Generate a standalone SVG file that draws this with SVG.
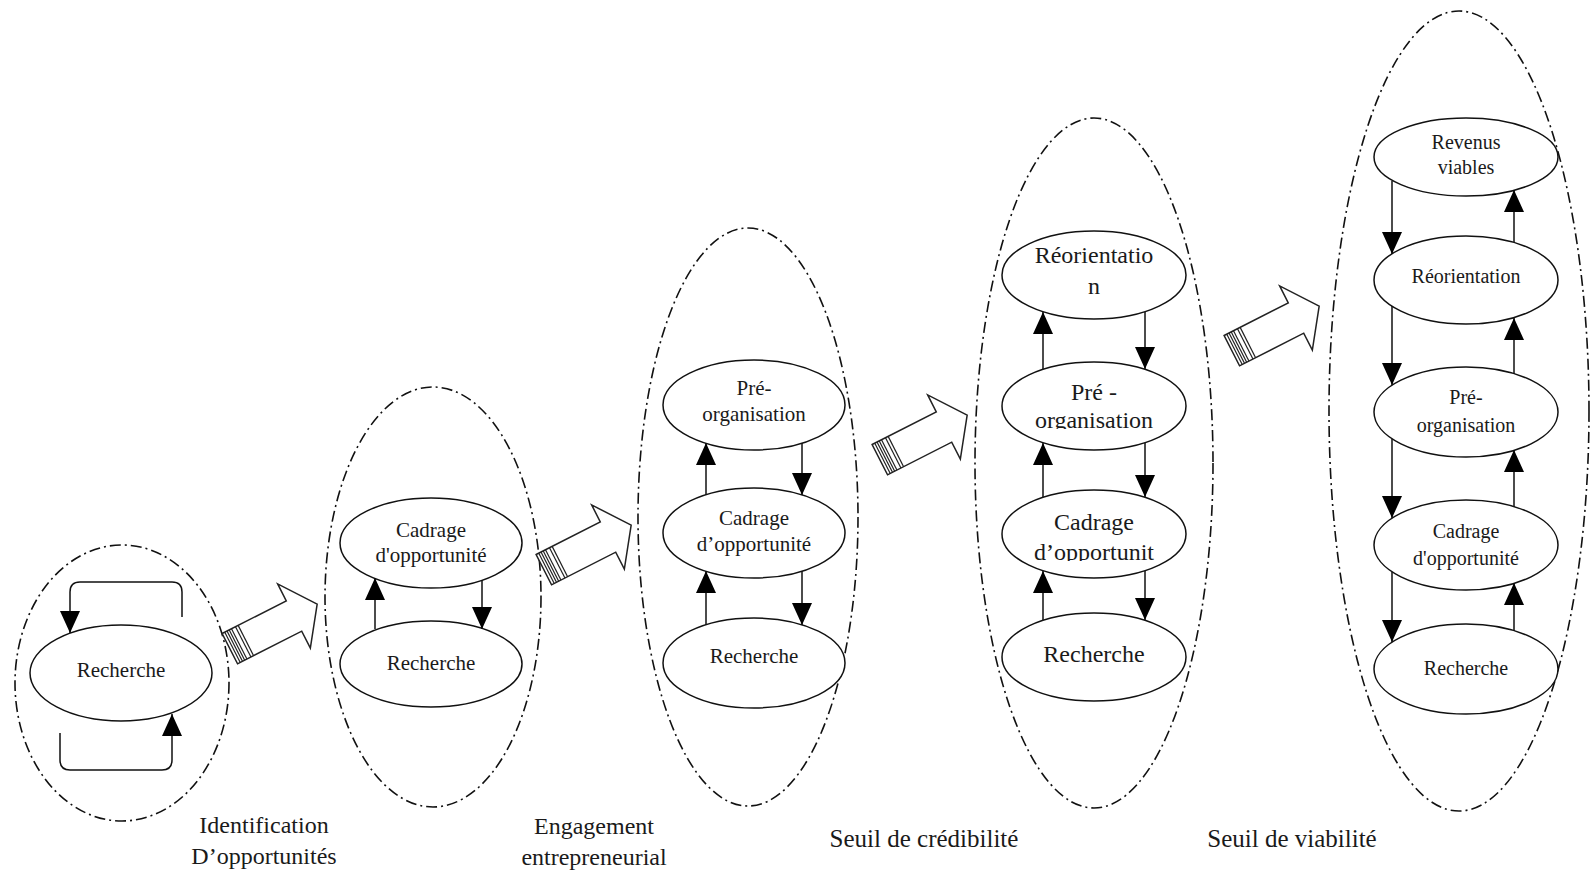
<svg xmlns="http://www.w3.org/2000/svg" width="1590" height="874" viewBox="0 0 1590 874">
<style>
.outer{fill:none;stroke:#111;stroke-width:1.6;stroke-dasharray:11 4 2 4}
.node{fill:#fff;stroke:#111;stroke-width:1.5}
.t{font-family:"Liberation Serif","Times New Roman",serif;fill:#1a1a1a;text-anchor:middle}
.conn{fill:none;stroke:#111;stroke-width:1.5}
.big{fill:#fff;stroke:#222;stroke-width:1.5;stroke-linejoin:miter}
.stripe{stroke:#222;stroke-width:1.2}
</style>
<defs>
<marker id="ah" viewBox="0 0 22 20" refX="22" refY="10" markerWidth="22" markerHeight="20" markerUnits="userSpaceOnUse" orient="auto">
<path d="M0,0 L22,10 L0,20 z" fill="#000"/>
</marker>
<clipPath id="clipOrg4"><rect x="990" y="370" width="210" height="59"/></clipPath>
<clipPath id="clipCad4"><rect x="990" y="495" width="210" height="66"/></clipPath>
<g id="bigArrow">
<polygon class="big" points="-72,-17 0,-17 0,-36 26,0 0,36 0,17 -72,17"/>
<line class="stripe" x1="-69" y1="-17" x2="-69" y2="17"/>
<line class="stripe" x1="-66.5" y1="-17" x2="-66.5" y2="17"/>
<line class="stripe" x1="-64" y1="-17" x2="-64" y2="17"/>
<line class="stripe" x1="-61.5" y1="-17" x2="-61.5" y2="17"/>
<line class="stripe" x1="-57" y1="-17" x2="-57" y2="17"/>
<line class="stripe" x1="-54" y1="-17" x2="-54" y2="17"/>
</g>
</defs>
<rect width="1590" height="874" fill="#fff"/>

<!-- Stage boundaries -->
<g id="stages">
<ellipse id="stage1" class="outer" cx="122" cy="683" rx="107" ry="138"/>
<ellipse id="stage2" class="outer" cx="433" cy="597" rx="108" ry="210"/>
<ellipse id="stage3" class="outer" cx="748" cy="517" rx="110" ry="289"/>
<ellipse id="stage4" class="outer" cx="1094" cy="463" rx="119" ry="345"/>
<ellipse id="stage5" class="outer" cx="1459" cy="411" rx="130" ry="400"/>
</g>

<!-- Transition arrows -->
<g id="transitions">
<use href="#bigArrow" transform="translate(294,616) rotate(-27)"/>
<use href="#bigArrow" transform="translate(608,537) rotate(-27)"/>
<use href="#bigArrow" transform="translate(944,427) rotate(-27)"/>
<use href="#bigArrow" transform="translate(1296,318) rotate(-27)"/>
</g>

<!-- Stage 1 -->
<g id="s1-recherche"><ellipse class="node" cx="121" cy="673" rx="91" ry="48"/><text class="t" x="121" y="677" font-size="21">Recherche</text></g>

<!-- Stage 2 -->
<g id="s2-cadrage"><ellipse class="node" cx="431" cy="543" rx="91" ry="45"/><text class="t" x="431" y="537" font-size="21">Cadrage</text><text class="t" x="431" y="562" font-size="21">d'opportunité</text></g>
<g id="s2-recherche"><ellipse class="node" cx="431" cy="664" rx="91" ry="43"/><text class="t" x="431" y="670" font-size="21">Recherche</text></g>

<!-- Stage 3 -->
<g id="s3-preorg"><ellipse class="node" cx="754" cy="405" rx="91" ry="45"/><text class="t" x="754" y="395" font-size="21">Pré-</text><text class="t" x="754" y="421" font-size="21">organisation</text></g>
<g id="s3-cadrage"><ellipse class="node" cx="754" cy="533" rx="91" ry="45"/><text class="t" x="754" y="525" font-size="21">Cadrage</text><text class="t" x="754" y="551" font-size="21">d’opportunité</text></g>
<g id="s3-recherche"><ellipse class="node" cx="754" cy="663" rx="91" ry="45"/><text class="t" x="754" y="663" font-size="21">Recherche</text></g>

<!-- Stage 4 -->
<g id="s4-reorientation"><ellipse class="node" cx="1094" cy="275" rx="92" ry="44"/><text class="t" x="1094" y="263" font-size="24">Réorientatio</text><text class="t" x="1094" y="294" font-size="24">n</text></g>
<g id="s4-preorg"><ellipse class="node" cx="1094" cy="406" rx="92" ry="44"/><text class="t" x="1094" y="400" font-size="24">Pré -</text><text class="t" x="1094" y="428" font-size="24" clip-path="url(#clipOrg4)">organisation</text></g>
<g id="s4-cadrage"><ellipse class="node" cx="1094" cy="534" rx="92" ry="44"/><text class="t" x="1094" y="530" font-size="24">Cadrage</text><text class="t" x="1094" y="560" font-size="24" clip-path="url(#clipCad4)">d’opportunit</text></g>
<g id="s4-recherche"><ellipse class="node" cx="1094" cy="657" rx="92" ry="44"/><text class="t" x="1094" y="662" font-size="24">Recherche</text></g>

<!-- Stage 5 -->
<g id="s5-revenus"><ellipse class="node" cx="1466" cy="157" rx="92" ry="39"/><text class="t" x="1466" y="149" font-size="20">Revenus</text><text class="t" x="1466" y="174" font-size="20">viables</text></g>
<g id="s5-reorientation"><ellipse class="node" cx="1466" cy="280" rx="92" ry="44"/><text class="t" x="1466" y="283" font-size="20">Réorientation</text></g>
<g id="s5-preorg"><ellipse class="node" cx="1466" cy="412" rx="92" ry="45"/><text class="t" x="1466" y="404" font-size="20">Pré-</text><text class="t" x="1466" y="432" font-size="20">organisation</text></g>
<g id="s5-cadrage"><ellipse class="node" cx="1466" cy="545" rx="92" ry="45"/><text class="t" x="1466" y="538" font-size="20">Cadrage</text><text class="t" x="1466" y="565" font-size="20">d'opportunité</text></g>
<g id="s5-recherche"><ellipse class="node" cx="1466" cy="669" rx="92" ry="45"/><text class="t" x="1466" y="675" font-size="20">Recherche</text></g>

<!-- Connectors -->
<g id="connectors" class="conn" marker-end="url(#ah)">
<path d="M182,617 V592 Q182,582 172,582 H80 Q70,582 70,592 V633"/>
<path d="M60,733 V760 Q60,770 70,770 H162 Q172,770 172,760 V714"/>

<line x1="375" y1="629" x2="375" y2="578"/>
<line x1="482" y1="580" x2="482" y2="629"/>

<line x1="706" y1="495" x2="706" y2="443"/>
<line x1="802" y1="443" x2="802" y2="495"/>
<line x1="706" y1="625" x2="706" y2="571"/>
<line x1="802" y1="571" x2="802" y2="625"/>

<line x1="1043" y1="369" x2="1043" y2="312"/>
<line x1="1145" y1="312" x2="1145" y2="369"/>
<line x1="1043" y1="497" x2="1043" y2="443"/>
<line x1="1145" y1="443" x2="1145" y2="497"/>
<line x1="1043" y1="620" x2="1043" y2="571"/>
<line x1="1145" y1="571" x2="1145" y2="620"/>

<line x1="1392" y1="181" x2="1392" y2="254"/>
<line x1="1514" y1="242" x2="1514" y2="190"/>
<line x1="1392" y1="306" x2="1392" y2="385"/>
<line x1="1514" y1="374" x2="1514" y2="318"/>
<line x1="1392" y1="439" x2="1392" y2="518"/>
<line x1="1514" y1="507" x2="1514" y2="450"/>
<line x1="1392" y1="572" x2="1392" y2="642"/>
<line x1="1514" y1="631" x2="1514" y2="583"/>
</g>

<!-- Stage labels -->
<g id="labels">
<text class="t" x="264" y="833" font-size="24">Identification</text>
<text class="t" x="264" y="864" font-size="24">D’opportunités</text>
<text class="t" x="594" y="834" font-size="24">Engagement</text>
<text class="t" x="594" y="865" font-size="24">entrepreneurial</text>
<text class="t" x="924" y="847" font-size="25">Seuil de crédibilité</text>
<text class="t" x="1292" y="847" font-size="25">Seuil de viabilité</text>
</g>
</svg>
